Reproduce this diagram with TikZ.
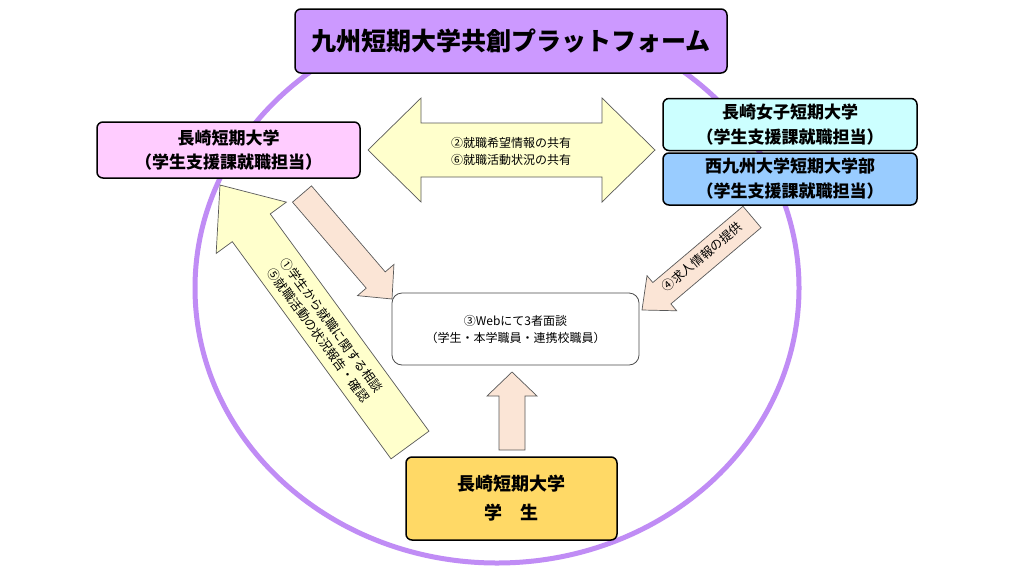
\documentclass[tikz,border=0pt]{standalone}
\usepackage{fontspec}
\setmainfont{Noto Sans CJK JP}
\usepackage{xcolor}
\usetikzlibrary{calc}

\definecolor{ringpurple}{RGB}{192,140,245}
\definecolor{titlepurple}{RGB}{204,153,255}
\definecolor{nagasakipink}{RGB}{255,204,255}
\definecolor{joshicyan}{RGB}{204,255,255}
\definecolor{nishiblue}{RGB}{153,204,255}
\definecolor{studentgold}{RGB}{255,217,102}
\definecolor{shareyellow}{RGB}{255,255,204}
\definecolor{flowpink}{RGB}{251,229,214}

% fat arrow: [style]{tail}{tip}{shaft half}{head half}{head length}
\newcommand{\fatarrow}[6][]{%
  \path ($(#3)!#6!(#2)$) coordinate (fa-b);
  \draw[#1] ($(#2)!#4!90:(#3)$) -- ($(fa-b)!#4!-90:(#2)$) -- ($(fa-b)!#5!-90:(#2)$)
    -- (#3) -- ($(fa-b)!#5!90:(#2)$) -- ($(fa-b)!#4!90:(#2)$) -- ($(#2)!#4!-90:(#3)$) -- cycle;}
% fat double arrow: [style]{tip a}{tip b}{shaft half}{head half}{head length}
\newcommand{\fatdouble}[6][]{%
  \path ($(#2)!#6!(#3)$) coordinate (fd-a) ($(#3)!#6!(#2)$) coordinate (fd-b);
  \draw[#1] (#2) -- ($(fd-a)!#5!90:(#3)$) -- ($(fd-a)!#4!90:(#3)$) -- ($(fd-b)!#4!-90:(#2)$)
    -- ($(fd-b)!#5!-90:(#2)$) -- (#3) -- ($(fd-b)!#5!90:(#2)$) -- ($(fd-b)!#4!90:(#2)$)
    -- ($(fd-a)!#4!-90:(#3)$) -- ($(fd-a)!#5!-90:(#3)$) -- cycle;}

\begin{document}
\begin{tikzpicture}[x=1pt, y=-1pt,
  box/.style={draw=black, line width=1.5pt, rounded corners=6pt, align=center, inner sep=0pt,
              font=\bfseries\fontsize{17}{24}\selectfont},
  note/.style={align=center, font=\fontsize{12}{17}\selectfont},
  ring/.style={draw=ringpurple, line width=5pt},
  yarrow/.style={draw=gray!70!black, line width=0.7pt, fill=shareyellow},
  parrow/.style={draw=gray!70!black, line width=0.7pt, fill=flowpink},
]
\path[fill=white, use as bounding box] (0,0) rectangle (1024,576);

\draw[ring] (497,288) ellipse [x radius=302pt, y radius=275pt];

% arrow ends
\coordinate (shareL) at (368,150);
\coordinate (shareR) at (655,150);
\coordinate (consultTail) at (410,445);
\coordinate (consultTip) at (220,185);
\coordinate (askTail) at (302,194);
\coordinate (askTip) at (392,299);
\coordinate (jobTail) at (752,217);
\coordinate (jobTip) at (642,310);
\coordinate (joinTail) at (512,450);
\coordinate (joinTip) at (512,372);

\fatdouble[yarrow]{shareL}{shareR}{27pt}{52pt}{53pt}
\fatarrow[yarrow]{consultTail}{consultTip}{23.5pt}{43.5pt}{53pt}
\fatarrow[parrow]{askTail}{askTip}{12.5pt}{24pt}{25pt}
\fatarrow[parrow]{jobTail}{jobTip}{14pt}{23pt}{26pt}
\fatarrow[parrow]{joinTail}{joinTip}{13pt}{25pt}{24pt}

\node[box, fill=titlepurple, minimum width=432pt, minimum height=64pt,
      font=\bfseries\fontsize{25}{30}\selectfont] (platform) at (511,41) {九州短期大学共創プラットフォーム};
\node[box, fill=nagasakipink, minimum width=263pt, minimum height=56pt] (nagasaki) at (228.5,150)
  {長崎短期大学\\（学生支援課就職担当）};
\node[box, fill=joshicyan, minimum width=254pt, minimum height=52pt,
      font=\bfseries\fontsize{17}{25}\selectfont] (joshi) at (790,124.5)
  {長崎女子短期大学\\（学生支援課就職担当）};
\node[box, fill=nishiblue, minimum width=254pt, minimum height=52pt,
      font=\bfseries\fontsize{17}{25}\selectfont] (nishi) at (790,179)
  {西九州大学短期大学部\\（学生支援課就職担当）};
\node[box, draw=gray!60!black, line width=0.8pt, fill=white, rounded corners=10pt,
      minimum width=247pt, minimum height=72pt, font=\fontsize{12}{17}\selectfont] (meeting) at (515.5,329)
  {③Webにて3者面談\\（学生・本学職員・連携校職員）};
\node[box, fill=studentgold, minimum width=211pt, minimum height=83pt,
      font=\bfseries\fontsize{18}{29}\selectfont] (student) at (511.5,498.5) {長崎短期大学\\学　生};

\node[note] (shareTxt) at (511,151) {②就職希望情報の共有\\⑥就職活動状況の共有};
\node[note, rotate=-53.8, font=\fontsize{12.5}{16.5}\selectfont] (consultTxt) at (325,330)
  {①学生から就職に関する相談\\⑤就職活動の状況報告・確認};
\node[note, rotate=40, font=\fontsize{12.5}{16}\selectfont] (jobTxt) at (702,257) {④求人情報の提供};
\end{tikzpicture}
\end{document}
